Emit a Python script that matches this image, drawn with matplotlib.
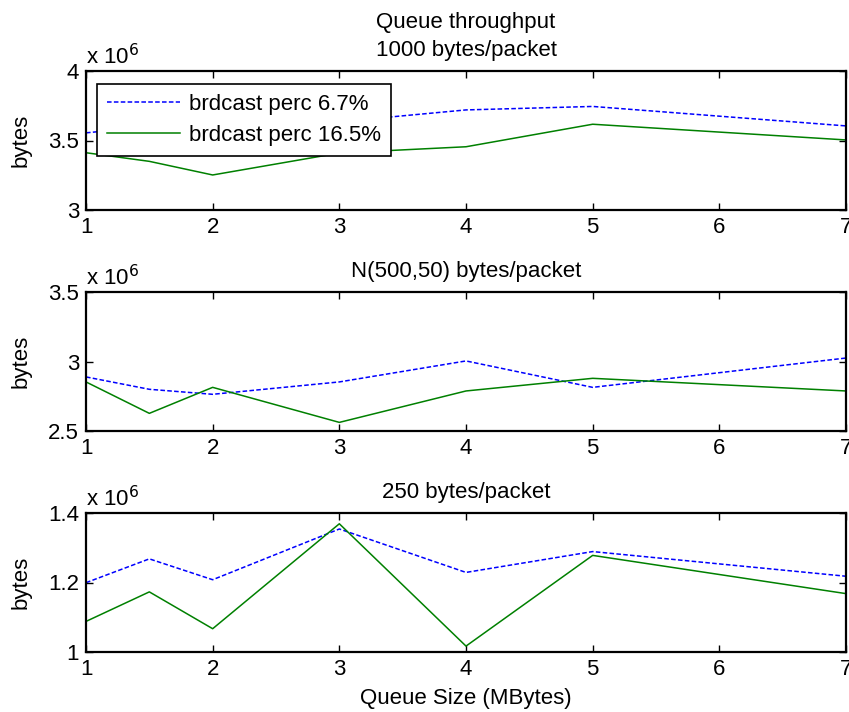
import matplotlib
matplotlib.use("Agg")
import matplotlib.pyplot as plt

plt.rcParams['font.family'] = ['Liberation Sans', 'DejaVu Sans']

# Queue sizes (MBytes)
queue_size = [1, 1.5, 2, 3, 4, 5, 7]

# Throughput in units of 1e6 bytes
p1000_low = [3.555, 3.60, 3.62, 3.635, 3.72, 3.745, 3.605]
p1000_high = [3.412, 3.35, 3.252, 3.41, 3.455, 3.617, 3.504]

pnorm_low = [2.889, 2.80, 2.764, 2.853, 3.004, 2.814, 3.025]
pnorm_high = [2.853, 2.627, 2.814, 2.562, 2.788, 2.879, 2.788]

p250_low = [1.1995, 1.268, 1.208, 1.354, 1.229, 1.289, 1.218]
p250_high = [1.088, 1.173, 1.067, 1.369, 1.017, 1.278, 1.168]

titles = ["Queue throughput\n1000 bytes/packet",
          "N(500,50) bytes/packet",
          "250 bytes/packet"]
ylims = [(3, 4), (2.5, 3.5), (1.0, 1.4)]
yticks = [[3, 3.5, 4], [2.5, 3, 3.5], [1, 1.2, 1.4]]
yticklabels = [["3", "3.5", "4"], ["2.5", "3", "3.5"], ["1", "1.2", "1.4"]]
xticks = [1, 2, 3, 4, 5, 6, 7]
series = [(p1000_low, p1000_high), (pnorm_low, pnorm_high), (p250_low, p250_high)]
legend_labels = ["brdcast perc 6.7%", "brdcast perc 16.5%"]

FS = 16
W, H = 849, 712
fig = plt.figure(figsize=(W / 100, H / 100), dpi=100)
fig.patch.set_facecolor('white')

left_px, right_px = 86, 846
tops_px = [71, 292, 513]
height_px = 139

axes = []
for i in range(3):
    b = 1 - (tops_px[i] + height_px) / H
    ax = fig.add_axes([left_px / W, b, (right_px - left_px) / W, height_px / H])
    axes.append(ax)
    low, high = series[i]
    l1, = ax.plot(queue_size, low, color=(0, 0, 1), linestyle=(0, (3, 1.5)),
                  linewidth=1.1, label=legend_labels[0])
    l2, = ax.plot(queue_size, high, color=(0, 0.5, 0), linestyle='-',
                  linewidth=1.1, label=legend_labels[1])
    ax.set_xlim(1, 7)
    ax.set_ylim(*ylims[i])
    ax.set_xticks(xticks)
    ax.set_xticklabels([str(t) for t in xticks])
    ax.set_yticks(yticks[i])
    ax.set_yticklabels(yticklabels[i])
    ax.tick_params(direction='in', top=True, right=True, length=5, width=1,
                   labelsize=FS, pad=5, colors='black')
    for s in ax.spines.values():
        s.set_linewidth(1.6)
        s.set_color('black')
    ax.set_ylabel("bytes", fontsize=FS, labelpad=12)
    ax.set_title(titles[i], fontsize=FS, pad=11, linespacing=1.45)
    ax.text(0, 1.015, r"x 10$^{6}$", transform=ax.transAxes, fontsize=FS,
            ha='left', va='bottom')
    if i == 0:
        leg = ax.legend(handles=[l1, l2], loc='upper left',
                        bbox_to_anchor=(0.0145, 0.906), fontsize=FS,
                        frameon=True, fancybox=False, framealpha=1,
                        edgecolor='black', borderaxespad=0,
                        handlelength=3.3, handletextpad=0.4,
                        borderpad=0.45, labelspacing=0.45)
        leg.get_frame().set_linewidth(1.2)

axes[-1].set_xlabel("Queue Size (MBytes)", fontsize=FS, labelpad=6)

fig.savefig("out.png", dpi=100)
